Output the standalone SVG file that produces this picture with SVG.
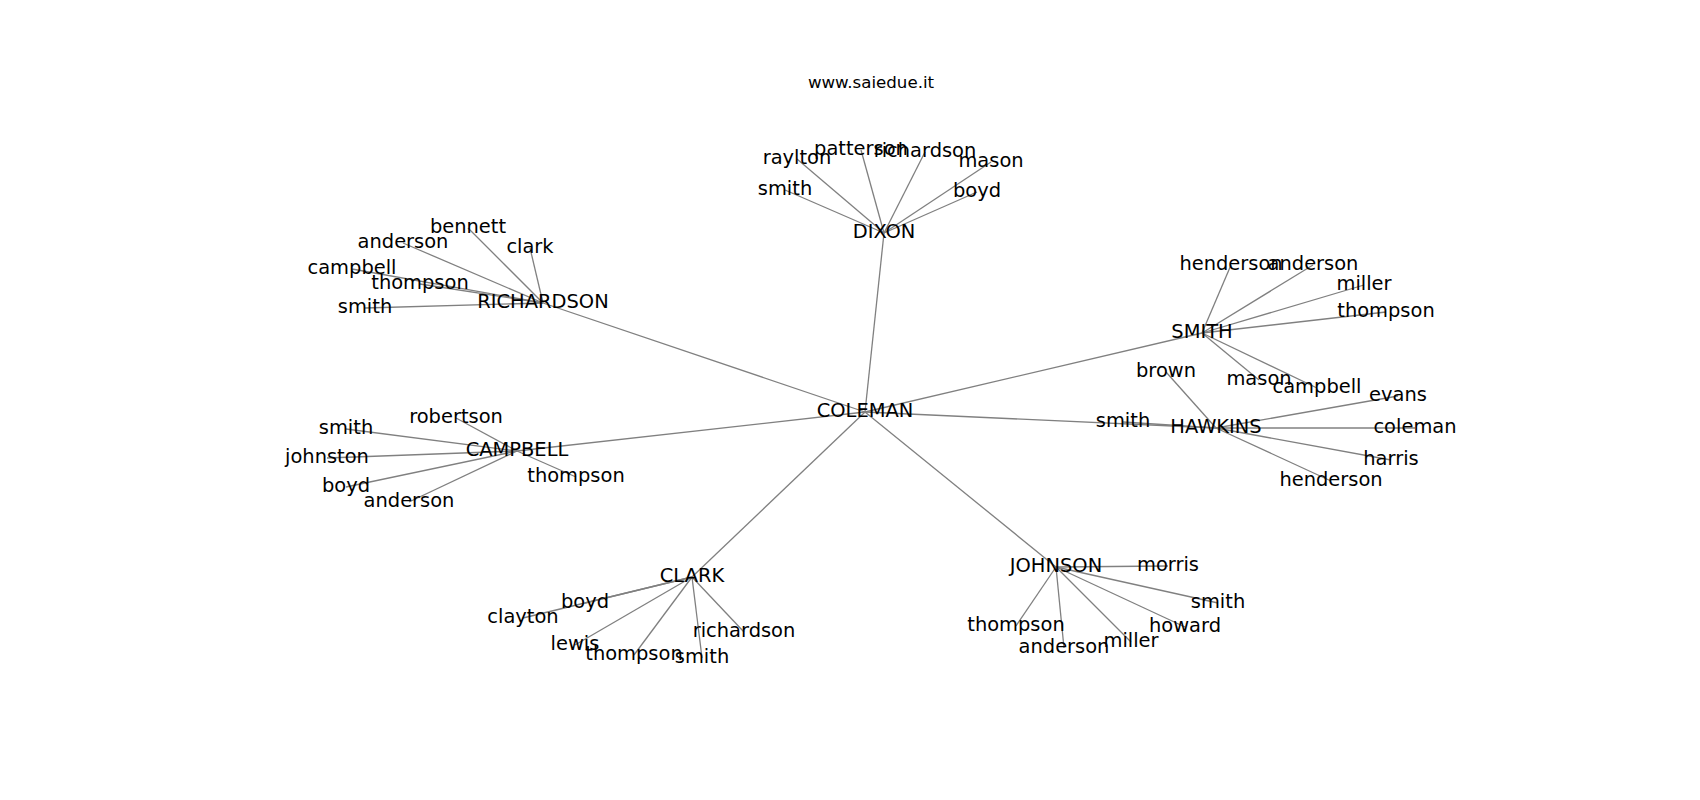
<svg xmlns="http://www.w3.org/2000/svg" width="1700" height="800" viewBox="0 0 1700 800">
<style>
.e{stroke:#808080;stroke-width:1.3;fill:none}
text{font-family:"DejaVu Sans",sans-serif;font-size:19.44px;fill:#000;text-anchor:middle}
.t{font-size:16.67px}
</style>
<rect width="1700" height="800" fill="#fff"/>
<text class="t" x="871" y="88">www.saiedue.it</text>
<g id="edges">
<line class="e" x1="865" y1="412" x2="884" y2="233"/>
<line class="e" x1="865" y1="412" x2="543" y2="303"/>
<line class="e" x1="865" y1="412" x2="1202" y2="333"/>
<line class="e" x1="865" y1="412" x2="1216" y2="428"/>
<line class="e" x1="865" y1="412" x2="517" y2="451"/>
<line class="e" x1="865" y1="412" x2="692" y2="577"/>
<line class="e" x1="865" y1="412" x2="1056" y2="567"/>
<line class="e" x1="884" y1="233" x2="797" y2="159"/>
<line class="e" x1="884" y1="233" x2="861" y2="150"/>
<line class="e" x1="884" y1="233" x2="925" y2="152"/>
<line class="e" x1="884" y1="233" x2="991" y2="162"/>
<line class="e" x1="884" y1="233" x2="785" y2="190"/>
<line class="e" x1="884" y1="233" x2="977" y2="192"/>
<line class="e" x1="543" y1="303" x2="468" y2="228"/>
<line class="e" x1="543" y1="303" x2="403" y2="243"/>
<line class="e" x1="543" y1="303" x2="530" y2="248"/>
<line class="e" x1="543" y1="303" x2="352" y2="269"/>
<line class="e" x1="543" y1="303" x2="420" y2="284"/>
<line class="e" x1="543" y1="303" x2="365" y2="308"/>
<line class="e" x1="517" y1="451" x2="456" y2="418"/>
<line class="e" x1="517" y1="451" x2="346" y2="429"/>
<line class="e" x1="517" y1="451" x2="327" y2="458"/>
<line class="e" x1="517" y1="451" x2="346" y2="487"/>
<line class="e" x1="517" y1="451" x2="409" y2="502"/>
<line class="e" x1="517" y1="451" x2="576" y2="477"/>
<line class="e" x1="692" y1="577" x2="585" y2="603"/>
<line class="e" x1="692" y1="577" x2="523" y2="618"/>
<line class="e" x1="692" y1="577" x2="575" y2="645"/>
<line class="e" x1="692" y1="577" x2="634" y2="655"/>
<line class="e" x1="692" y1="577" x2="702" y2="658"/>
<line class="e" x1="692" y1="577" x2="744" y2="632"/>
<line class="e" x1="1056" y1="567" x2="1168" y2="566"/>
<line class="e" x1="1056" y1="567" x2="1218" y2="603"/>
<line class="e" x1="1056" y1="567" x2="1185" y2="627"/>
<line class="e" x1="1056" y1="567" x2="1016" y2="626"/>
<line class="e" x1="1056" y1="567" x2="1064" y2="648"/>
<line class="e" x1="1056" y1="567" x2="1131" y2="642"/>
<line class="e" x1="1202" y1="333" x2="1231" y2="265"/>
<line class="e" x1="1202" y1="333" x2="1313" y2="265"/>
<line class="e" x1="1202" y1="333" x2="1364" y2="285"/>
<line class="e" x1="1202" y1="333" x2="1386" y2="312"/>
<line class="e" x1="1202" y1="333" x2="1259" y2="380"/>
<line class="e" x1="1202" y1="333" x2="1317" y2="388"/>
<line class="e" x1="1216" y1="428" x2="1166" y2="372"/>
<line class="e" x1="1216" y1="428" x2="1398" y2="396"/>
<line class="e" x1="1216" y1="428" x2="1123" y2="422"/>
<line class="e" x1="1216" y1="428" x2="1415" y2="428"/>
<line class="e" x1="1216" y1="428" x2="1391" y2="460"/>
<line class="e" x1="1216" y1="428" x2="1331" y2="481"/>
</g>
<g id="COLEMAN"><text x="865" y="417">COLEMAN</text></g>
<g id="DIXON"><text x="884" y="238">DIXON</text>
<text x="797" y="164">raylton</text>
<text x="861" y="155">patterson</text>
<text x="925" y="157">richardson</text>
<text x="991" y="167">mason</text>
<text x="785" y="195">smith</text>
<text x="977" y="197">boyd</text></g>
<g id="RICHARDSON"><text x="543" y="308">RICHARDSON</text>
<text x="468" y="233">bennett</text>
<text x="403" y="248">anderson</text>
<text x="530" y="253">clark</text>
<text x="352" y="274">campbell</text>
<text x="420" y="289">thompson</text>
<text x="365" y="313">smith</text></g>
<g id="CAMPBELL"><text x="517" y="456">CAMPBELL</text>
<text x="456" y="423">robertson</text>
<text x="346" y="434">smith</text>
<text x="327" y="463">johnston</text>
<text x="346" y="492">boyd</text>
<text x="409" y="507">anderson</text>
<text x="576" y="482">thompson</text></g>
<g id="CLARK"><text x="692" y="582">CLARK</text>
<text x="585" y="608">boyd</text>
<text x="523" y="623">clayton</text>
<text x="575" y="650">lewis</text>
<text x="634" y="660">thompson</text>
<text x="702" y="663">smith</text>
<text x="744" y="637">richardson</text></g>
<g id="JOHNSON"><text x="1056" y="572">JOHNSON</text>
<text x="1168" y="571">morris</text>
<text x="1218" y="608">smith</text>
<text x="1185" y="632">howard</text>
<text x="1016" y="631">thompson</text>
<text x="1064" y="653">anderson</text>
<text x="1131" y="647">miller</text></g>
<g id="SMITH"><text x="1202" y="338">SMITH</text>
<text x="1231" y="270">henderson</text>
<text x="1313" y="270">anderson</text>
<text x="1364" y="290">miller</text>
<text x="1386" y="317">thompson</text>
<text x="1259" y="385">mason</text>
<text x="1317" y="393">campbell</text></g>
<g id="HAWKINS"><text x="1216" y="433">HAWKINS</text>
<text x="1166" y="377">brown</text>
<text x="1398" y="401">evans</text>
<text x="1123" y="427">smith</text>
<text x="1415" y="433">coleman</text>
<text x="1391" y="465">harris</text>
<text x="1331" y="486">henderson</text></g>
</svg>
